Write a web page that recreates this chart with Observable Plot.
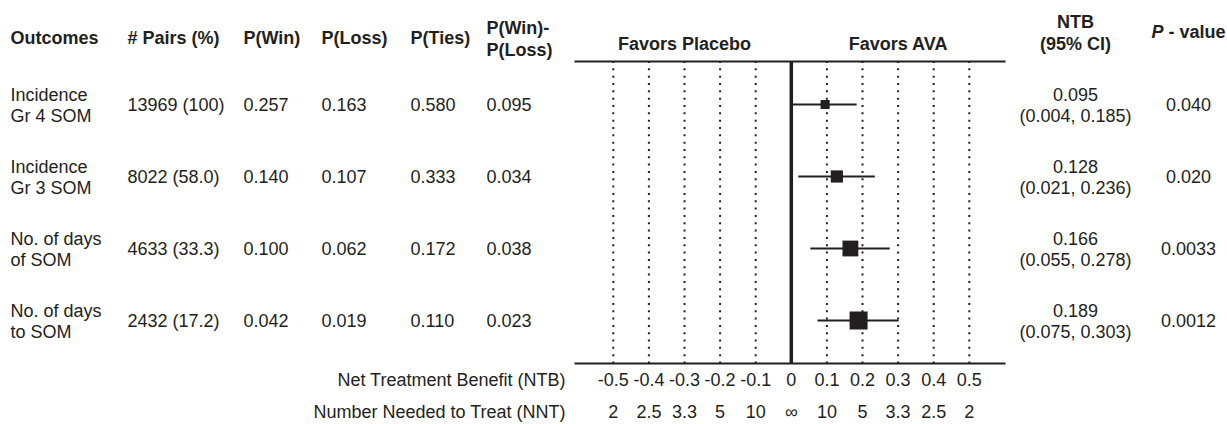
<!DOCTYPE html>
<html>
<head>
<meta charset="utf-8">
<script src="https://cdn.jsdelivr.net/npm/d3@7"></script>
<script src="https://cdn.jsdelivr.net/npm/@observablehq/plot@0.6"></script>
<style>
  html, body { margin: 0; padding: 0; background: #fff; }
  #chart svg { display: block; }
</style>
</head>
<body>
<div id="chart"></div>
<script>
// ---------- data ----------
const outcomes = ["Incidence\nGr 4 SOM", "Incidence\nGr 3 SOM", "No. of days\nof SOM", "No. of days\nto SOM"];
const pairs = ["13969 (100)", "8022 (58.0)", "4633 (33.3)", "2432 (17.2)"];
const pWin = ["0.257", "0.140", "0.100", "0.042"];
const pLoss = ["0.163", "0.107", "0.062", "0.019"];
const pTies = ["0.580", "0.333", "0.172", "0.110"];
const pDiff = ["0.095", "0.034", "0.038", "0.023"];
const ntb = [0.095, 0.128, 0.166, 0.189];
const ciLow = [0.004, 0.021, 0.055, 0.075];
const ciHigh = [0.185, 0.236, 0.278, 0.303];
const pValue = ["0.040", "0.020", "0.0033", "0.0012"];
const ntbTicks = [-0.5, -0.4, -0.3, -0.2, -0.1, 0, 0.1, 0.2, 0.3, 0.4, 0.5];
const ntbTickLabels = ["-0.5", "-0.4", "-0.3", "-0.2", "-0.1", "0", "0.1", "0.2", "0.3", "0.4", "0.5"];
const nntTickLabels = ["2", "2.5", "3.3", "5", "10", "\u221E", "10", "5", "3.3", "2.5", "2"];
const sideLabels = ["Favors Placebo", "Favors AVA"];
const sideCenters = [-0.3, 0.3];
const axisTitles = ["Net Treatment Benefit (NTB)", "Number Needed to Treat (NNT)"];

// ---------- layout ----------
const W = 1227, H = 424;
const ML = 574, MR = 222, MT = 61, MB = 61;
const ink = "#231f20";
const FS = 18;

const rows = outcomes.map((o, i) => ({
  key: i, outcome: o, pairs: pairs[i], pWin: pWin[i], pLoss: pLoss[i], pTies: pTies[i],
  pDiff: pDiff[i], ntb: ntb[i], lo: ciLow[i], hi: ciHigh[i],
  ntbText: `${ntb[i].toFixed(3)}\n(${ciLow[i].toFixed(3)}, ${ciHigh[i].toFixed(3)})`,
  pValue: pValue[i]
}));
const ticks = ntbTicks.map((t, i) => ({t, ntb: ntbTickLabels[i], nnt: nntTickLabels[i]}));

const columns = [
  {field: "outcome", header: "Outcomes",        x: 10,   hy: 37,   anchor: "start"},
  {field: "pairs",   header: "# Pairs (%)",     x: 127,  hy: 37,   anchor: "start"},
  {field: "pWin",    header: "P(Win)",          x: 243,  hy: 37,   anchor: "start"},
  {field: "pLoss",   header: "P(Loss)",         x: 321,  hy: 37,   anchor: "start"},
  {field: "pTies",   header: "P(Ties)",         x: 410,  hy: 37,   anchor: "start"},
  {field: "pDiff",   header: "P(Win)-\nP(Loss)", x: 486, hy: 37.5, anchor: "start"},
  {field: "ntbText", header: "NTB\n(95% CI)",   x: 1075, hy: 31.5, anchor: "middle"},
  {field: "pValue",  header: "P - value",       x: 1188, hy: 31,   anchor: "middle"}
];

const marks = [];
// frame: only top & bottom edges
const fw = W - ML - MR, fh = H - MT - MB;
marks.push(Plot.frame({stroke: ink, strokeWidth: 2, strokeDasharray: `${fw},${fh}`}));
// dotted gridlines
marks.push(Plot.ruleX(ntbTicks.filter(t => t !== 0), {stroke: ink, strokeWidth: 2, strokeDasharray: "2,5.33"}));
// zero line
marks.push(Plot.ruleX([0], {stroke: ink, strokeWidth: 3.5}));
// CIs
marks.push(Plot.ruleY(rows, {y: "key", x1: "lo", x2: "hi", stroke: ink, strokeWidth: 2}));
// point estimates
marks.push(Plot.dot(rows, {x: "ntb", y: "key", r: "ntb", symbol: "square", fill: ink, stroke: null}));

// table columns
for (const c of columns) {
  marks.push(Plot.text(rows, {
    y: "key", text: c.field, frameAnchor: "left", dx: c.x - ML,
    textAnchor: c.anchor, lineAnchor: "middle", lineHeight: 1.2,
    fontSize: FS, fill: ink
  }));
  marks.push(Plot.text([c.header], {
    text: d => d, frameAnchor: "top-left", dx: c.x - ML, dy: c.hy - MT,
    textAnchor: c.anchor, lineAnchor: "middle", lineHeight: 1.2,
    fontSize: FS, fontWeight: "bold", fill: ink
  }));
}
// favors headers
marks.push(Plot.text(sideLabels, {
  x: (d, i) => sideCenters[i], text: d => d, frameAnchor: "top", dy: 44 - MT,
  lineAnchor: "middle", fontSize: FS, fontWeight: "bold", fill: ink
}));
// tick labels
marks.push(Plot.text(ticks, {x: "t", text: "ntb", frameAnchor: "bottom", dy: 17, lineAnchor: "middle", fontSize: FS, fill: ink}));
marks.push(Plot.text(ticks, {x: "t", text: "nnt", frameAnchor: "bottom", dy: 49, lineAnchor: "middle", fontSize: FS, fill: ink}));
// axis titles
axisTitles.forEach((t, i) => {
  marks.push(Plot.text([t], {
    text: d => d, frameAnchor: "bottom-left", dx: 565 - ML, dy: i === 0 ? 17 : 49,
    textAnchor: "end", lineAnchor: "middle", fontSize: FS, fill: ink
  }));
});

const chart = Plot.plot({
  width: W, height: H,
  marginLeft: ML, marginRight: MR, marginTop: MT, marginBottom: MB,
  x: {type: "linear", domain: [-0.5, 0.5], range: [612.8, 968.8], axis: null},
  y: {type: "point", domain: rows.map(d => d.key), range: [104, 320], padding: 0, axis: null},
  r: {type: "linear", domain: [0, d3.max(ntb)], range: [0, 10.16]},
  style: {fontFamily: "'Liberation Sans', Arial, Helvetica, sans-serif", background: "#fff", color: ink},
  marks
});

// italic P in "P - value"
d3.select(chart).selectAll("text").filter(function () { return this.textContent === "P - value"; })
  .each(function () {
    const t = d3.select(this);
    t.text(null);
    t.append("tspan").attr("font-style", "italic").text("P");
    t.append("tspan").text(" - value");
  });

document.getElementById("chart").appendChild(chart);
</script>
</body>
</html>
